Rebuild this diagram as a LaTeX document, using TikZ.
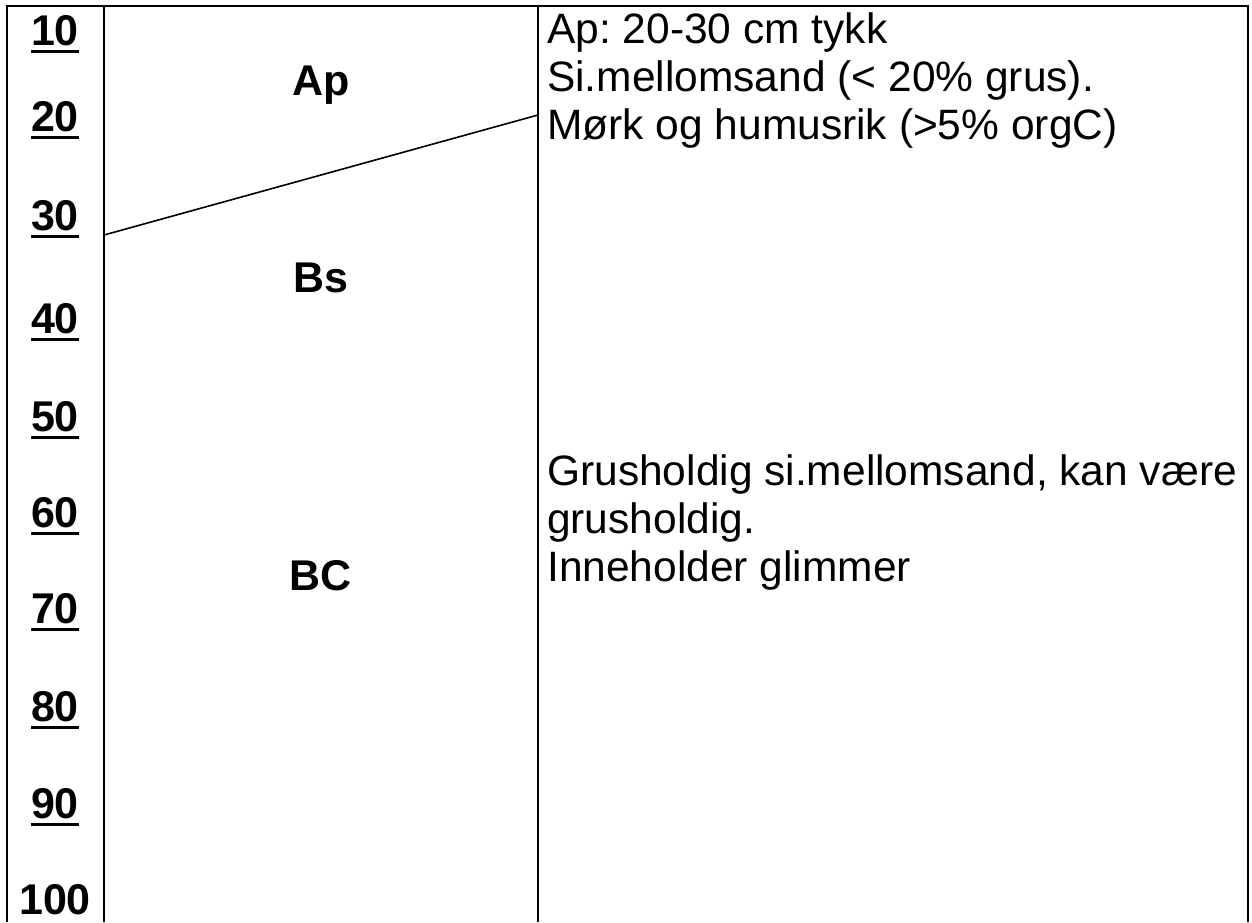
\documentclass[tikz,border=0pt]{standalone}
\usepackage{fontspec}
\setmainfont{Liberation Sans}
\frenchspacing
\newcommand\myul[1]{\setbox0\hbox{#1}\rlap{\rule[-8pt]{\wd0}{3pt}}\box0}
\begin{document}
\begin{tikzpicture}[x=1pt,y=-1pt,
  frame/.style={line width=2.4pt},
  hline/.style={line width=1.6pt},
  depth/.style={inner sep=0pt, anchor=base, font=\fontsize{43}{48}\selectfont\bfseries},
  hor/.style={inner sep=0pt, anchor=base, font=\fontsize{43}{48}\selectfont\bfseries},
  desc/.style={inner sep=0pt, anchor=base west, font=\fontsize{42.5}{48}\selectfont}]
\useasboundingbox (0,0) rectangle (1252,922);
% frame
\coordinate (bl) at (7,922);
\coordinate (tl) at (7,6);
\coordinate (tr) at (1248,6);
\coordinate (br) at (1248,922);
\coordinate (d1t) at (104,6);
\coordinate (d1b) at (104,922);
\coordinate (d2t) at (538,6);
\coordinate (d2b) at (538,922);
\draw[frame] (bl) -- (tl) -- (tr) -- (br);
\draw[frame] (d1t) -- (d1b);
\draw[frame] (d2t) -- (d2b);
% horizon boundary
\coordinate (hA) at (104,235);
\coordinate (hB) at (538,115);
\draw[hline] (hA) -- (hB);
% depth labels
\node[depth] (n10) at (55,45) {\myul{10}};
\node[depth] (n20) at (55,131) {\myul{20}};
\node[depth] (n30) at (55,230) {\myul{30}};
\node[depth] (n40) at (55,333) {\myul{40}};
\node[depth] (n50) at (55,431) {\myul{50}};
\node[depth] (n60) at (55,527) {\myul{60}};
\node[depth] (n70) at (55,623) {\myul{70}};
\node[depth] (n80) at (55,721) {\myul{80}};
\node[depth] (n90) at (55,818) {\myul{90}};
\node[depth] (n100) at (55,914) {100};
% horizon names
\node[hor] (ap) at (321,95) {Ap};
\node[hor] (bs) at (321,292) {Bs};
\node[hor] (bc) at (321,590) {BC};
% descriptions
\node[desc] (a1) at (547,43) {Ap: 20-30 cm tykk};
\node[desc] (a2) at (547,91) {Si.mellomsand (< 20\% grus).};
\node[desc] (a3) at (547,139) {Mørk og humusrik (>5\% orgC)};
\node[desc] (b1) at (547,485) {Grusholdig si.mellomsand, kan være};
\node[desc] (b2) at (547,533) {grusholdig.};
\node[desc] (b3) at (547,581) {Inneholder glimmer};
\end{tikzpicture}
\end{document}
